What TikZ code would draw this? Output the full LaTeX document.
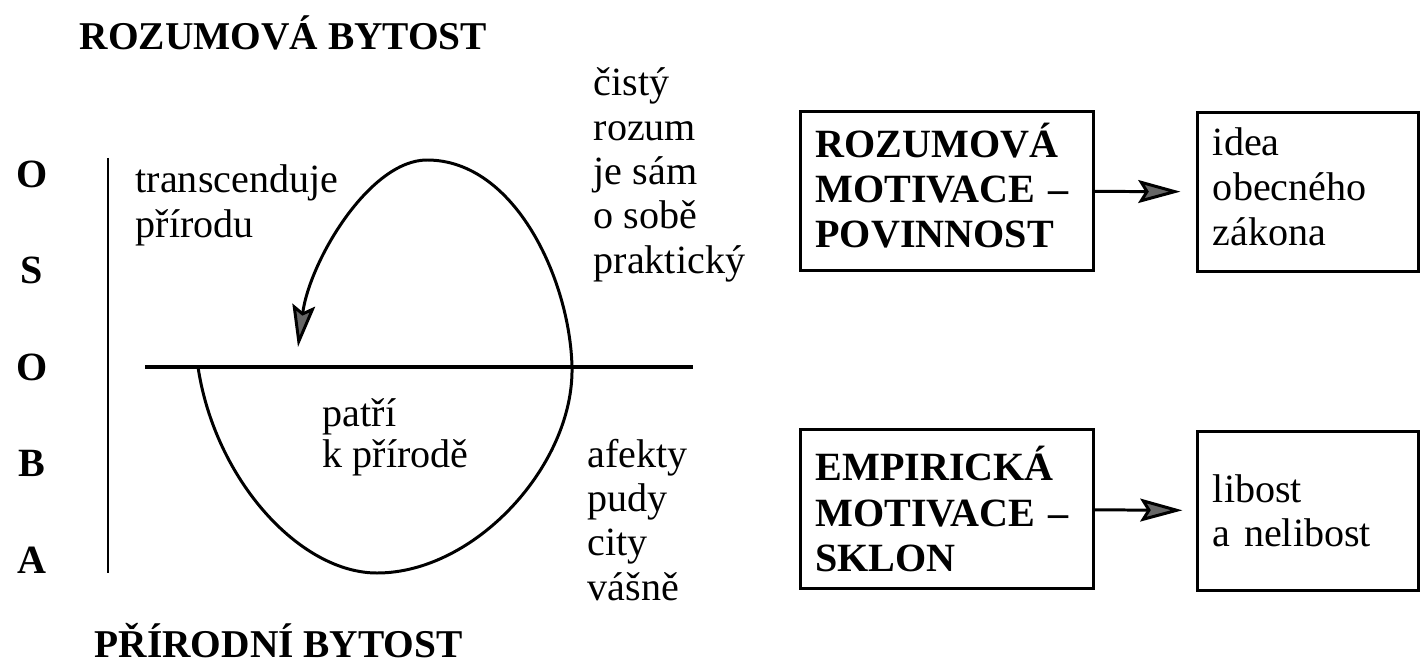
\documentclass[tikz,border=0pt]{standalone}
\usepackage{fontspec}
\setmainfont{Liberation Serif}
\usetikzlibrary{arrows.meta}
\tikzset{
  txt/.style={anchor=base west, align=left, inner sep=0pt, font=\fontsize{11.4}{12.6}\selectfont},
  caps/.style={txt, font=\fontsize{11.2}{12.8}\selectfont\bfseries},
  box/.style={draw, line width=0.85pt, align=left, inner xsep=0.15cm, inner ysep=0pt, minimum height=1.58cm},
  sipka/.style={-{Stealth[length=12pt,width=6.5pt,inset=2pt,fill=black!60]}},
}
\begin{document}
\begin{tikzpicture}[x=0.01cm,y=-0.01cm]
%
\useasboundingbox (0,0) rectangle (1422,664);
%
% nadpisy nahore a dole (base = posledni radek)
\node[caps] (rb) at (79,50) {ROZUMOVÁ BYTOST};
\node[caps] (pb) at (94,657) {PŘÍRODNÍ BYTOST};
\node[caps, anchor=base, align=center, font=\fontsize{11.4}{27.4}\selectfont\bfseries] (os) at (32,573) {O\\S\\O\\B\\A};
%
% texty kolem smycky
\node[txt] (tr) at (135,237) {transcenduje\\přírodu};
\node[txt, font=\fontsize{11.4}{11.4}\selectfont] (pk) at (322,467) {patří\\k přírodě};
\node[txt] (cr) at (593,273) {čistý\\rozum\\je sám\\o sobě\\praktický};
\node[txt] (af) at (587,600) {afekty\\pudy\\city\\vášně};
%
% svisla a vodorovna cara
\draw[line width=0.85pt] (108,158) -- (108,573);
\draw[line width=1.1pt] (145,367) -- (693,367);
%
% smycka se sipkou
\draw[line width=0.85pt, sipka] (198,367) .. controls (215,480) and (300,573) .. (377,573)
  .. controls (475,573) and (574,465) .. (572,367)
  .. controls (570,280) and (515,160) .. (427,160)
  .. controls (370,160) and (310,260) .. (298,347);
%
% krabice vpravo
\node[box, text width=2.63cm, font=\fontsize{11.4}{12.8}\selectfont\bfseries] (rm) at (947,191) {ROZUMOVÁ\\MOTIVACE --\\POVINNOST\vspace{0.1cm}};
\node[box, text width=1.9cm, font=\fontsize{11.4}{12.8}\selectfont] (iz) at (1308,192) {idea\\obecného\\zákona\vspace{0.1cm}};
\node[box, text width=2.63cm, font=\fontsize{11.4}{12.8}\selectfont\bfseries] (em) at (947,509) {EMPIRICKÁ\\MOTIVACE --\\SKLON};
\node[box, text width=1.9cm, font=\fontsize{11.4}{12.6}\selectfont] (ln) at (1308,511) {libost\\a nelibost};
%
\draw[line width=0.85pt, sipka, shorten >=0.16cm] (rm) to (iz);
\draw[line width=0.85pt, sipka, shorten >=0.14cm] (em) to (ln);
%
\end{tikzpicture}
\end{document}
